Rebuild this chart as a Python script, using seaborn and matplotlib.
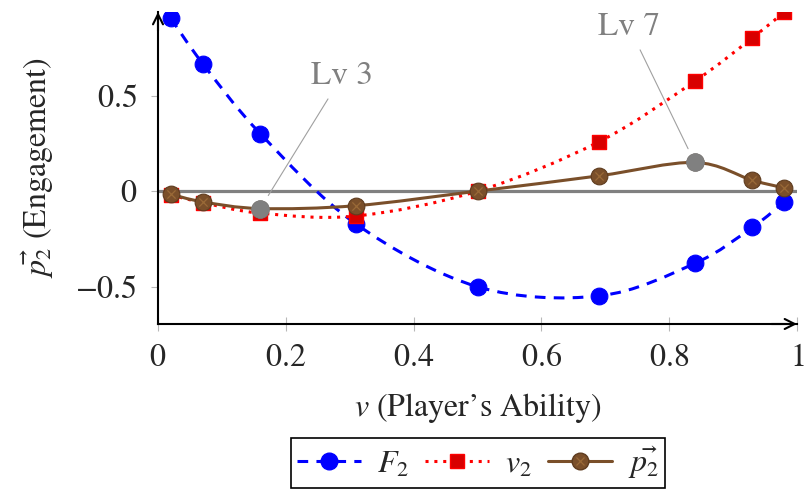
import numpy as np
import pandas as pd
import matplotlib
matplotlib.use("Agg")
import matplotlib.pyplot as plt
import seaborn as sns
from matplotlib.path import Path
from matplotlib.patches import PathPatch
from matplotlib.lines import Line2D
from matplotlib.legend_handler import HandlerTuple

# ---------------- data ----------------
x_vals = [0.02, 0.07, 0.16, 0.31, 0.50, 0.69, 0.84, 0.93, 0.98]
f2_vals = [0.904, 0.667, 0.301, -0.172, -0.50, -0.548, -0.378, -0.19, -0.056]
v2_vals = [-0.02, -0.06, -0.115, -0.13, 0.0, 0.258, 0.575, 0.801, 0.937]
p2_vals = [-0.016, -0.056, -0.091, -0.076, 0.0, 0.080, 0.150, 0.057, 0.017]
pin_x = [0.16, 0.84]
pin_y = [-0.091, 0.150]
pin_labels = ["Lv 3", "Lv 7"]
pin_text_x = [0.288, 0.737]
pin_text_y = [0.601, 0.859]
x_ticks = [0, 0.2, 0.4, 0.6, 0.8, 1]
x_ticklabels = ["$0$", "$0.2$", "$0.4$", "$0.6$", "$0.8$", "$1$"]
y_ticks = [-0.5, 0, 0.5]
y_ticklabels = [r"$-0.5$", "$0$", "$0.5$"]
series_labels = ["$F_2$", "$v_2$", r"$\vec{p_2}$"]

sns.set_theme(style="white")
plt.rcParams["font.family"] = ["STIXGeneral", "DejaVu Serif"]
plt.rcParams["mathtext.fontset"] = "stix"

BLUE = "#0000ff"
RED = "#ff0000"
REDFILL = "#d80000"
BROWN = "#7a4f2a"
BROWN_X = "#9a6a38"
GRAY = "#808080"

fig = plt.figure(figsize=(8.05, 4.95), dpi=100)
ax = fig.add_axes([158/805, 1-324/495, (797-158)/805, (324-12)/495])
ax.set_xlim(0, 1)
ax.set_ylim(-0.695, 0.937)


def smooth_path(xs, ys, f=1/6):
    pts = np.column_stack([xs, ys]).astype(float)
    n = len(pts)
    verts = [pts[0]]
    codes = [Path.MOVETO]
    for i in range(n - 1):
        p0 = pts[i - 1] if i > 0 else pts[i]
        p1 = pts[i]
        p2 = pts[i + 1]
        p3 = pts[i + 2] if i + 2 < n else pts[i + 1]
        c1 = p1 + f * (p2 - p0)
        c2 = p2 - f * (p3 - p1)
        verts += [c1, c2, p2]
        codes += [Path.CURVE4] * 3
    return Path(verts, codes)


# zero line
ax.axhline(0, color=GRAY, lw=2.3, zorder=1)

df = pd.DataFrame({"x": x_vals, "F2": f2_vals, "v2": v2_vals, "p2": p2_vals})

# blue F2
ax.add_patch(PathPatch(smooth_path(df.x, df.F2), fill=False, edgecolor=BLUE,
                       lw=2.2, linestyle=(0, (3.5, 2.7)), zorder=2))
sns.scatterplot(data=df, x="x", y="F2", ax=ax, color=BLUE, marker="o", s=145,
                edgecolor=BLUE, linewidth=0.8, zorder=3, legend=False)

# red v2
ax.add_patch(PathPatch(smooth_path(df.x, df.v2), fill=False, edgecolor=RED,
                       lw=2.2, linestyle=(0, (1, 1.9)), zorder=4))
sns.scatterplot(data=df, x="x", y="v2", ax=ax, color=REDFILL, marker="s", s=105,
                edgecolor=RED, linewidth=1.0, zorder=5, legend=False)

# brown p2
ax.add_patch(PathPatch(smooth_path(df.x, df.p2), fill=False, edgecolor=BROWN,
                       lw=2.2, zorder=6))
sns.scatterplot(data=df, x="x", y="p2", ax=ax, color=BROWN, marker="o", s=145,
                edgecolor="#5e3c1f", linewidth=0.8, zorder=7, legend=False)
ax.scatter(df.x, df.p2, marker="x", s=35, color=BROWN_X, linewidths=0.9, zorder=8)

# gray pins
sns.scatterplot(x=pin_x, y=pin_y, ax=ax, color=GRAY, marker="o", s=165,
                edgecolor=GRAY, linewidth=0.5, zorder=9, legend=False)
for px, py, lab, tx, ty in zip(pin_x, pin_y, pin_labels, pin_text_x, pin_text_y):
    ax.annotate(lab, xy=(px, py), xytext=(tx, ty), textcoords="data",
                ha="center", va="center", fontsize=24, color=GRAY,
                arrowprops=dict(arrowstyle="-", color="#a0a0a0", lw=0.8,
                                shrinkA=4, shrinkB=11),
                zorder=10)

# axes styling
for s in ["top", "right"]:
    ax.spines[s].set_visible(False)
for s in ["left", "bottom"]:
    ax.spines[s].set_color("black")
    ax.spines[s].set_linewidth(1.5)
    ax.spines[s].set_zorder(11)

ax.set_xticks(x_ticks)
ax.set_xticklabels(x_ticklabels)
ax.set_yticks(y_ticks)
ax.set_yticklabels(y_ticklabels)
ax.tick_params(axis="x", direction="inout", length=10, width=0.8, color="#b8b8b8",
               labelsize=23, pad=9, bottom=True)
ax.tick_params(axis="y", direction="out", length=5, width=0.8, color="#b8b8b8",
               labelsize=23, pad=10, left=True)

ax.set_xlabel("$v$ (Player’s Ability)", fontsize=23, labelpad=13)
ax.set_ylabel(r"$\vec{p_2}$ (Engagement)", fontsize=23, labelpad=14)

# axis arrows
ax.annotate("", xy=(1.0, 0.0), xytext=(0.96, 0.0), xycoords="axes fraction",
            textcoords="axes fraction", annotation_clip=False,
            arrowprops=dict(arrowstyle="->", lw=1.5, color="black",
                            mutation_scale=18, shrinkA=0, shrinkB=0))
ax.annotate("", xy=(0.0, 1.0), xytext=(0.0, 0.94), xycoords="axes fraction",
            textcoords="axes fraction", annotation_clip=False,
            arrowprops=dict(arrowstyle="->", lw=1.5, color="black",
                            mutation_scale=18, shrinkA=0, shrinkB=0))

# legend
h1 = Line2D([], [], color=BLUE, lw=2.2, ls=(0, (3.5, 2.7)), marker="o", ms=12,
            markerfacecolor=BLUE, markeredgecolor=BLUE)
h2 = Line2D([], [], color=RED, lw=2.2, ls=(0, (1, 1.9)), marker="s", ms=10,
            markerfacecolor=REDFILL, markeredgecolor=RED)
h3a = Line2D([], [], color=BROWN, lw=2.2, marker="o", ms=12,
             markerfacecolor=BROWN, markeredgecolor="#5e3c1f")
h3b = Line2D([], [], ls="none", marker="x", ms=6, markeredgecolor=BROWN_X, mew=0.9)
leg = fig.legend([h1, h2, (h3a, h3b)], series_labels, loc="center",
                 bbox_to_anchor=(478/805, 1-463/495), ncol=3, frameon=True,
                 fancybox=False, edgecolor="black", framealpha=1, fontsize=23,
                 handlelength=2.0, handletextpad=0.5, columnspacing=0.5,
                 borderpad=0.2, handler_map={tuple: HandlerTuple(ndivide=1, pad=0)})
leg.get_frame().set_linewidth(1.2)

fig.savefig("out.png", dpi=100)
